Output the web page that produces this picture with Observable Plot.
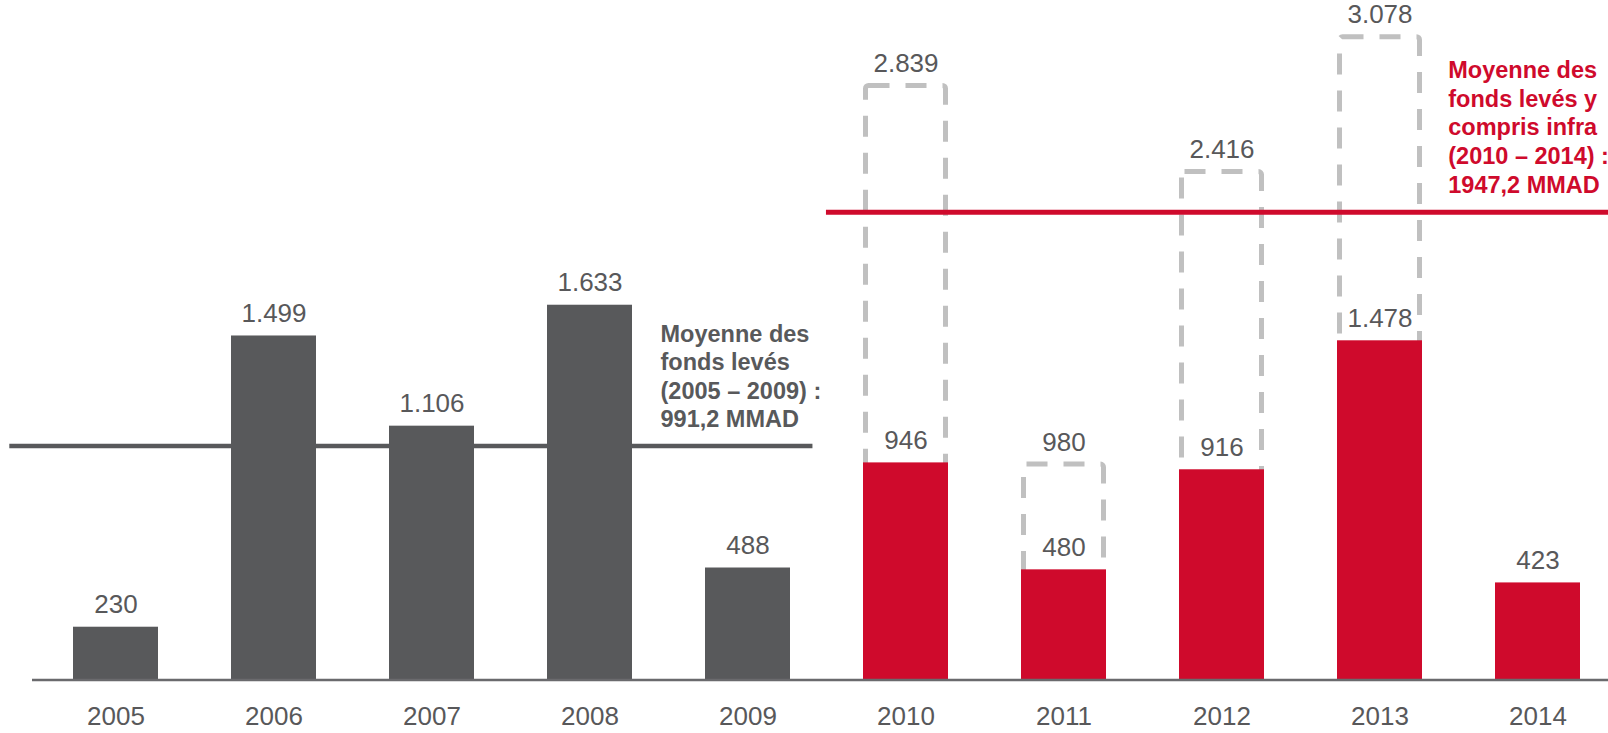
<!DOCTYPE html>
<html>
<head>
<meta charset="utf-8">
<script src="https://cdn.jsdelivr.net/npm/d3@7"></script>
<script src="https://cdn.jsdelivr.net/npm/@observablehq/plot@0.6"></script>
<style>
html, body { margin: 0; padding: 0; background: #ffffff; overflow: hidden; }
#chart { position: relative; width: 1608px; height: 733px; }
#chart svg { position: absolute; left: 0; top: 0; }
</style>
</head>
<body>
<div id="chart"></div>
<script>
// ---- data ----
const years = ["2005", "2006", "2007", "2008", "2009", "2010", "2011", "2012", "2013", "2014"];
const fundsRaised = [230, 1499, 1106, 1633, 488, 946, 480, 916, 1478, 423];
const fundsWithInfra = [null, null, null, null, null, 2839, 980, 2416, 3078, null];
const periodOfYear = ["2005 – 2009", "2005 – 2009", "2005 – 2009", "2005 – 2009", "2005 – 2009",
                      "2010 – 2014", "2010 – 2014", "2010 – 2014", "2010 – 2014", "2010 – 2014"];
const periods = ["2005 – 2009", "2010 – 2014"];
const periodStart = [2005, 2010];
const periodEnd = [2009, 2014];
const periodAverage = [991.2, 1947.2];
const noteHeads = ["Moyenne des\nfonds levés", "Moyenne des\nfonds levés y\ncompris infra"];

// ---- formatting ----
const loc = d3.formatLocale({decimal: ",", thousands: ".", grouping: [3], currency: ["", ""]});
const fmtInt = loc.format(",d");
const fmtAvg = loc.format(".1f");

// ---- tables ----
const barData = years.map((y, i) => ({year: y, value: fundsRaised[i], period: periodOfYear[i]}));
const infraData = years.map((y, i) => ({year: y, total: fundsWithInfra[i]})).filter(d => d.total != null);
const avgData = periods.map((p, i) => ({
  period: p, start: periodStart[i], end: periodEnd[i], avg: periodAverage[i],
  note: `${noteHeads[i]}\n(${p}) :\n${fmtAvg(periodAverage[i])} MMAD`
}));

// ---- styles ----
const W = 1608, H = 733;
const GREY = "#58595b", RED = "#cf0a2c", TEXT = "#58585a", DASH = "#c0c0c0";
const FONT = "'Liberation Sans', Arial, Helvetica, sans-serif";
const xBand = {type: "band", domain: years, range: [32, 1621.5], paddingInner: 0.465, paddingOuter: 0.2328, axis: null};
const baseStyle = {fontFamily: FONT, background: "transparent", overflow: "hidden"};

// Layer 1: dashed "incl. infra" boxes
const boxes = Plot.plot({
  width: W, height: H, margin: 0,
  style: baseStyle,
  x: xBand,
  y: {domain: [0, 3000], range: [663.7, 52.6], axis: null},
  marks: [
    Plot.barY(infraData, {x: "year", y1: 0, y2: "total", fill: "none", stroke: DASH,
      strokeWidth: 5, strokeDasharray: "21,16", insetLeft: 2.5, insetRight: 2.5, rx: 3}),
    Plot.text(infraData, {x: "year", y: "total", text: d => fmtInt(d.total), dy: -14,
      lineAnchor: "bottom", fontSize: 26, fill: TEXT})
  ]
});

// Layer 2: period averages
const ruleStyle = [
  {color: GREY, width: 4.5, x1: -0.643, x2: 0.41, tx: -0.549, dy: -18.5},
  {color: RED, width: 5, x1: -0.505, x2: 0.45, tx: -0.593, dy: -19.7}
];
const avgMarks = [];
avgData.forEach((d, i) => {
  const s = ruleStyle[i];
  avgMarks.push(Plot.ruleY([d], {y: "avg", x1: r => r.start + s.x1, x2: r => r.end + s.x2,
    stroke: s.color, strokeWidth: s.width}));
  avgMarks.push(Plot.text([d], {x: r => r.end + s.tx, y: "avg", text: "note", textAnchor: "start",
    lineAnchor: "bottom", lineHeight: 1.217, dy: s.dy, fontSize: 23.5, fontWeight: "bold", fill: s.color}));
});
const averages = Plot.plot({
  width: W, height: H, margin: 0,
  style: baseStyle,
  x: {type: "linear", domain: [2005, 2014], range: [111.5, 1542], axis: null},
  y: {domain: [0, 3000], range: [687.8, -45.6], axis: null},
  marks: avgMarks
});

// Layer 3: bars, values, axis
const bars = Plot.plot({
  width: W, height: H, marginLeft: 32, marginRight: 0, marginTop: 0, marginBottom: 54,
  style: baseStyle,
  x: xBand,
  y: {domain: [0, 3000], range: [679.5, -9], axis: null},
  color: {domain: periods, range: [GREY, RED]},
  marks: [
    Plot.barY(barData, {x: "year", y: "value", fill: "period"}),
    Plot.ruleY([0], {stroke: "#6a6a6d", strokeWidth: 2.5}),
    Plot.text(barData, {x: "year", y: "value", text: d => fmtInt(d.value), dy: -14,
      lineAnchor: "bottom", fontSize: 26, fill: TEXT}),
    Plot.axisX({tickSize: 0, tickPadding: 27, fontSize: 26, fill: TEXT, stroke: null, label: null})
  ]
});

const chart = document.getElementById("chart");
chart.append(boxes, averages, bars);
</script>
</body>
</html>
